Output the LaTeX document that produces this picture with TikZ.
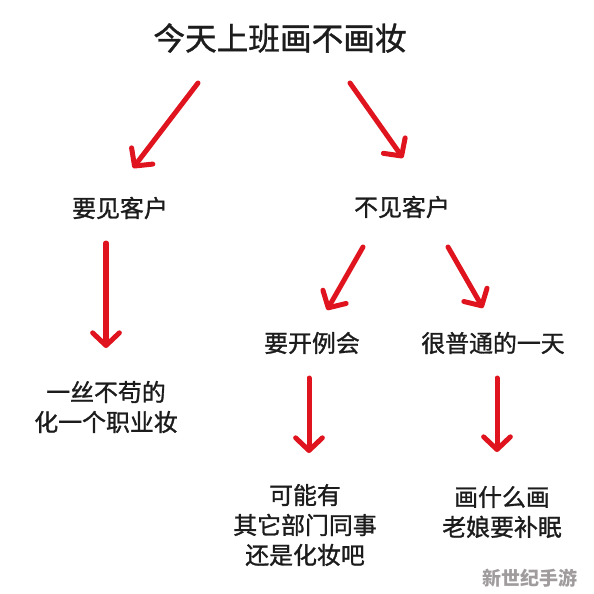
\documentclass[tikz,border=0pt]{standalone}
\usepackage{fontspec}
\setmainfont{Noto Sans CJK SC}
\newfontfamily\inkfont{Noto Sans CJK SC}[FakeBold=1.2]
\usepackage{tikz}
\usetikzlibrary{arrows.meta,calc}
\usepackage{xcolor}
\definecolor{Ink}{HTML}{1C1C1C}
\definecolor{Mark}{HTML}{E0141E}
\definecolor{Fog}{HTML}{A09C9E}
\tikzset{
  txt/.style={inner sep=0pt, align=center, text=Ink,
    font=\inkfont\fontsize{#1}{21.3}\selectfont},
  txt/.default={17},
  redarr/.style={-{Straight Barb[length=9pt,width=19pt,round]},
    line width=0.125cm, line cap=round, color=Mark},
}

\begin{document}
\begin{tikzpicture}[x=0.025cm, y=-0.025cm]
  \useasboundingbox (0,0) rectangle (594,594);

  \node[txt=22.5] (title) at (280,38) {今天上班画不画妆};
  \node[txt] (jian) at (120,208) {要见客户};
  \node[txt] (bujian) at (402,207) {不见客户};
  \node[txt] (kaihui) at (312,343) {要开例会};
  \node[txt] (putong) at (493,343) {很普通的一天};
  \node[txt] (zhiye) at (106,407) {一丝不苟的\\化一个职业妆};
  \node[txt] (tongshi) at (305,525) {可能有\\其它部门同事\\还是化妆吧};
  \node[txt] (bumian) at (502,512) {画什么画\\老娘要补眠};
  \node[inner sep=0pt, text=Fog, font=\fontsize{13.5}{16}\selectfont\bfseries]
    (wm) at (530,578) {新世纪手游};

  \draw[redarr] ($(title)+(-82,45)$) -- ($(jian)+(13,-40)$);
  \draw[redarr] ($(title)+(70,45)$) -- ($(bujian)+(1,-49)$);
  \draw[redarr] ($(jian)+(-14,35)$) -- ($(zhiye)+(0,-59)$);
  \draw[redarr] ($(bujian)+(-39,40)$) -- ($(kaihui)+(15,-33)$);
  \draw[redarr] ($(bujian)+(46,40)$) -- ($(putong)+(-10,-35)$);
  \draw[redarr] ($(kaihui)+(-3,35)$) -- ($(tongshi)+(4,-72)$);
  \draw[redarr] ($(putong)+(4,35)$) -- ($(bumian)+(-5,-60)$);
\end{tikzpicture}
\end{document}
